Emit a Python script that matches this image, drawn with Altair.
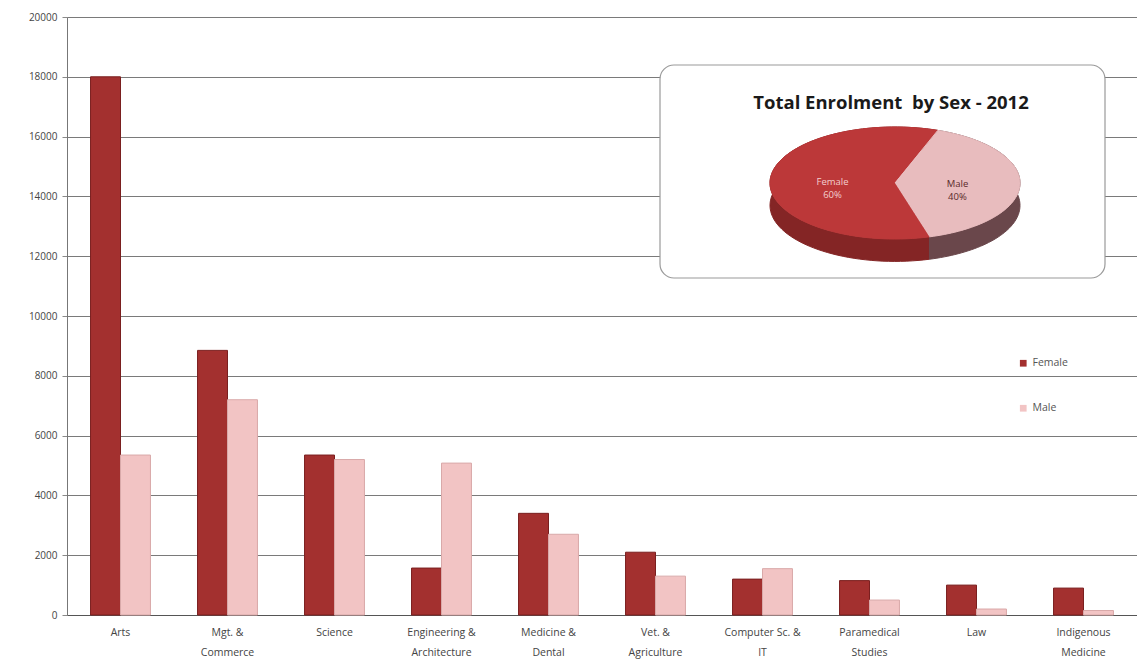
import altair as alt
import pandas as pd
import numpy as np

categories = ["Arts", "Mgt. &\nCommerce", "Science", "Engineering &\nArchitecture",
              "Medicine &\nDental", "Vet. &\nAgriculture", "Computer Sc. &\nIT",
              "Paramedical\nStudies", "Law", "Indigenous\nMedicine"]
female = [18000, 8850, 5350, 1570, 3400, 2100, 1200, 1150, 1000, 900]
male = [5350, 7200, 5200, 5080, 2700, 1300, 1550, 500, 200, 150]

pie_labels = ["Male", "Female"]
pie_shares = [40, 60]

F_COL = "#A3302F"
M_COL = "#F2C4C4"

rows = []
for c, f, m in zip(categories, female, male):
    rows.append({"cat": c, "sex": "Female", "value": f})
    rows.append({"cat": c, "sex": "Male", "value": m})
bars_df = pd.DataFrame(rows)

W, H = 1070, 598

bars = alt.Chart(bars_df).mark_bar(strokeWidth=1).encode(
    x=alt.X("cat:N", sort=categories, title=None,
            scale=alt.Scale(paddingInner=0.44, paddingOuter=0.22),
            axis=alt.Axis(labelExpr="split(datum.label, '\\n')", labelAngle=0,
                          labelFont="Open Sans", labelFontSize=10.5, labelColor="#444",
                          labelPadding=12, ticks=False, domainColor="#555",
                          labelLineHeight=20)),
    xOffset=alt.XOffset("sex:N", sort=["Female", "Male"], scale=alt.Scale(paddingInner=0)),
    y=alt.Y("value:Q", title=None,
            scale=alt.Scale(domain=[0, 20000]),
            axis=alt.Axis(values=list(range(0, 20001, 2000)), format="d",
                          labelFont="Open Sans", labelFontSize=10, labelColor="#444",
                          gridColor="#7a7a7a", gridWidth=1, tickColor="#8a8a8a",
                          tickSize=5, domainColor="#777", labelPadding=5)),
    color=alt.Color("sex:N", sort=["Female", "Male"],
                    scale=alt.Scale(domain=["Female", "Male"], range=[F_COL, M_COL]),
                    legend=alt.Legend(title=None, orient="none", legendX=951, legendY=341,
                                      symbolType="square", symbolSize=45, rowPadding=34,
                                      labelFont="Open Sans", labelFontSize=10.5,
                                      labelColor="#555", symbolStrokeWidth=0)),
    stroke=alt.Stroke("sex:N", scale=alt.Scale(domain=["Female", "Male"],
                                               range=["#7A1F1F", "#D9A9A9"]), legend=None),
)

# ---- pie inset ----
N = 80
starts = np.cumsum([0] + pie_shares[:-1]).tolist()
prow = []
for lab, sh, st in zip(pie_labels, pie_shares, starts):
    prow.append({"sex": lab, "share": sh, "start": st, "kind": "top", "frac": 0.0,
                 "center": 1, "depth": 0, "ord": 0})
    for k in range(N + 1):
        prow.append({"sex": lab, "share": sh, "start": st, "kind": "top", "frac": k / N,
                     "center": 0, "depth": 0, "ord": k + 1})
    for k in range(N + 1):
        prow.append({"sex": lab, "share": sh, "start": st, "kind": "wall", "frac": k / N,
                     "center": 0, "depth": 0, "ord": k})
    for k in range(N, -1, -1):
        prow.append({"sex": lab, "share": sh, "start": st, "kind": "wall", "frac": k / N,
                     "center": 0, "depth": 1, "ord": N + 1 + (N - k)})
pie_df = pd.DataFrame(prow)

CX, CY, RX, RY = 895 - 67, 183 - 17, 125, 56
DEPTH = 0.4
xs = alt.Scale(domain=[-1, 1], range=[CX - RX, CX + RX])
ys = alt.Scale(domain=[-1, 1], range=[CY + RY, CY - RY])

pie_base = alt.Chart(pie_df).transform_calculate(
    theta="PI/180*20 + 2*PI*(datum.start + datum.share*datum.frac)/100",
).transform_calculate(
    px="datum.center ? 0 : sin(datum.theta)",
    py=f"(datum.center ? 0 : cos(datum.theta)) - datum.depth*{DEPTH}",
)

def poly(kind, sex, fillc):
    return pie_base.transform_filter(
        f"datum.kind == '{kind}' && datum.sex == '{sex}'"
    ).mark_line(fill=fillc, stroke=fillc, strokeWidth=1, interpolate="linear").encode(
        x=alt.X("px:Q", scale=xs, axis=None),
        y=alt.Y("py:Q", scale=ys, axis=None),
        order="ord:Q",
    )

pie_layers = [
    poly("wall", "Female", "#842525"),
    poly("wall", "Male", "#6A474B"),
    poly("top", "Female", "#BC3839"),
    poly("top", "Male", "#E8BCBE"),
]

lab_df = pd.DataFrame({"sex": pie_labels, "share": pie_shares, "start": starts})
pie_text = alt.Chart(lab_df).transform_calculate(
    theta="PI/180*20 + 2*PI*(datum.start + datum.share/2)/100",
    txt="datum.sex + '\\n' + datum.share + '%'",
).transform_calculate(
    px="0.5*sin(datum.theta)", py="0.5*cos(datum.theta)"
).mark_text(font="Open Sans", fontSize=9.5, lineBreak="\n", lineHeight=13).encode(
    x=alt.X("px:Q", scale=xs, axis=None),
    y=alt.Y("py:Q", scale=ys, axis=None),
    text="txt:N",
    color=alt.Color("sex:N", scale=alt.Scale(domain=["Female", "Male"],
                                             range=["#F3CFCF", "#5A2A2A"]), legend=None),
)

one = pd.DataFrame({"a": [0]})
box = alt.Chart(one).mark_rect(fill="white", stroke="#9a9a9a", strokeWidth=1.2,
                               cornerRadius=14).encode(
    x=alt.value(660 - 67), x2=alt.value(1105 - 67),
    y=alt.value(65 - 17), y2=alt.value(278 - 17),
)
title = alt.Chart(one).mark_text(font="Open Sans", fontSize=18.5, fontWeight="bold",
                                 color="#1a1a1a").encode(
    x=alt.value(891 - 67), y=alt.value(103 - 17),
    text=alt.value("Total Enrolment\u00a0 by Sex - 2012"),
)

pie_group = alt.layer(*pie_layers, pie_text)

chart = alt.layer(bars, box, title, pie_group).resolve_scale(
    x="independent", y="independent", color="independent", stroke="independent"
).properties(
    width=W, height=H,
    autosize=alt.AutoSizeParams(type="none"),
    padding={"left": 67, "top": 17, "right": 0, "bottom": 44},
).configure_view(stroke=None).configure(background="white")

chart.save("out.html", embed_options={"renderer": "svg", "actions": False})
